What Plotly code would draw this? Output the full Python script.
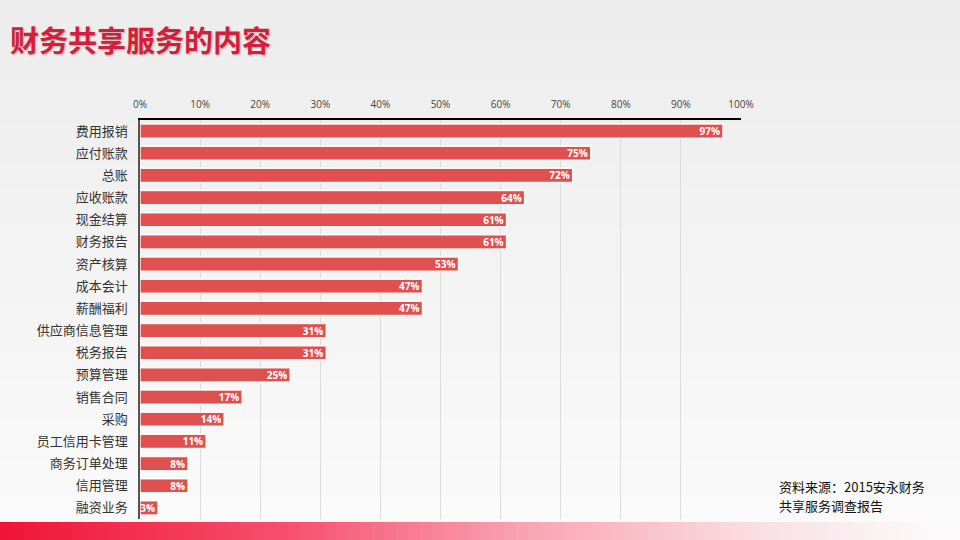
import plotly.graph_objects as go

categories = ["费用报销", "应付账款", "总账", "应收账款", "现金结算", "财务报告", "资产核算",
              "成本会计", "薪酬福利", "供应商信息管理", "税务报告", "预算管理", "销售合同",
              "采购", "员工信用卡管理", "商务订单处理", "信用管理", "融资业务"]
values = [97, 75, 72, 64, 61, 61, 53, 47, 47, 31, 31, 25, 17, 14, 11, 8, 8, 3]
tick_vals = [0, 10, 20, 30, 40, 50, 60, 70, 80, 90, 100]
tick_text = [f"{v}%" for v in tick_vals]
source_lines = ["资料来源：2015安永财务", "共享服务调查报告"]

CJK = "Noto Sans CJK SC, Noto Sans, sans-serif"
LAT = "Open Sans, Noto Sans CJK SC, sans-serif"

PH = 399.0  # plot height px
PW = 601.0  # plot width px


def py(pix):  # pixel y from top -> paper y
    return (519 - pix) / PH


def px(pix):  # pixel x from left -> paper x
    return (pix - 140) / PW


fig = go.Figure()
fig.add_trace(go.Bar(
    x=values, y=categories, orientation="h",
    marker=dict(color="#e0504f", line=dict(color="rgba(255,255,255,0.9)", width=1.5)),
    text=[f"{v}%" for v in values], textposition="inside", insidetextanchor="end",
    constraintext="none",
    textfont=dict(color="white", size=10, family=LAT, weight="bold"),
    cliponaxis=False, hoverinfo="skip",
))

shapes = []
# vertical background gradient
n = 40
for i in range(n):
    t = i / (n - 1)
    c = int(237 + (251 - 237) * t)
    y1 = py(540 * i / n)
    y0 = py(540 * (i + 1) / n) - 0.004
    shapes.append(dict(type="rect", xref="paper", yref="paper", layer="below",
                       x0=px(0), x1=px(960), y0=y0, y1=y1,
                       fillcolor=f"rgb({c},{c},{c})", line=dict(width=0)))
# bottom red band, horizontal gradient (color stops)
stops = [(0.0, (240, 20, 55)), (0.3, (248, 80, 110)), (0.55, (250, 165, 180)),
         (0.8, (250, 225, 230)), (0.97, (252, 250, 250)), (1.0, (252, 250, 250))]


def band_color(t):
    for (t0, c0), (t1, c1) in zip(stops[:-1], stops[1:]):
        if t0 <= t <= t1:
            f = (t - t0) / (t1 - t0) if t1 > t0 else 0
            return tuple(int(a + (b - a) * f) for a, b in zip(c0, c1))
    return stops[-1][1]


m = 80
for i in range(m):
    r, g, b = band_color((i + 0.5) / m)
    x0 = px(960 * i / m)
    x1 = px(960 * (i + 1) / m) + 0.002
    shapes.append(dict(type="rect", xref="paper", yref="paper", layer="above",
                       x0=x0, x1=x1, y0=py(540), y1=py(522),
                       fillcolor=f"rgb({r},{g},{b})", line=dict(width=0)))

annotations = [
    dict(text="<b>财务共享服务的内容</b>", xref="paper", yref="paper",
         x=px(8), y=py(39), xanchor="left", yanchor="middle",
         showarrow=False,
         font=dict(family=CJK, size=29, color="#d41f3c", shadow="1px 1px 2px rgba(0,0,0,0.25)")),
]
for k, line in enumerate(source_lines):
    annotations.append(dict(text=line, xref="paper", yref="paper",
                            x=px(777), y=py(486 + 19 * k), xanchor="left", yanchor="middle",
                            showarrow=False,
                            font=dict(family=CJK, size=13, color="#111111")))

fig.update_layout(
    width=960, height=540,
    margin=dict(l=140, r=219, t=120, b=21),
    paper_bgcolor="#f3f3f3", plot_bgcolor="rgba(0,0,0,0)",
    showlegend=False, bargap=0.36,
    shapes=shapes,
    xaxis=dict(side="top", range=[0, 100], tickvals=tick_vals, ticktext=tick_text,
               showgrid=True, gridcolor="#dcdcdc", gridwidth=1,
               showline=True, linecolor="#000000", linewidth=2,
               ticks="", ticklabelstandoff=6, zeroline=False,
               tickfont=dict(family=LAT, size=10, color="#444444")),
    yaxis=dict(autorange="reversed", showline=True, linecolor="#555555", linewidth=1.5,
               ticks="", ticklabelstandoff=8, showgrid=False,
               tickfont=dict(family=CJK, size=13, color="#333333")),
    annotations=annotations,
)

fig.write_html("out.html", config={"displayModeBar": False},
               post_script="document.body.style.margin='0';document.body.style.overflow='hidden';")
